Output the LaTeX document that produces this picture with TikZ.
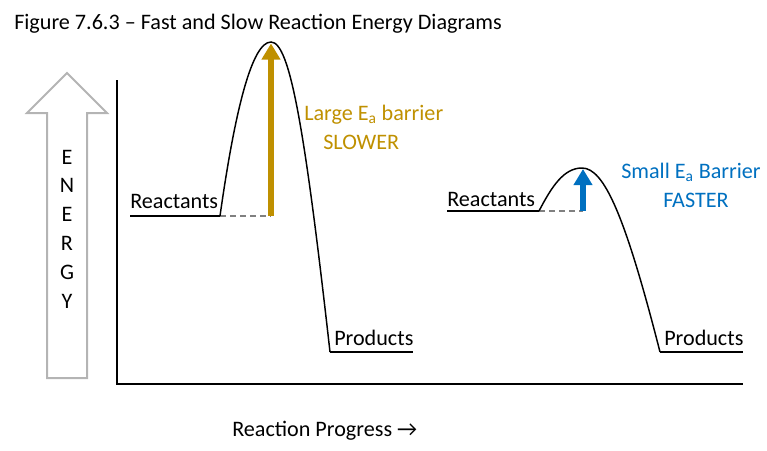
\documentclass[tikz,border=0pt]{standalone}
\usepackage{fontspec}
\setmainfont{Carlito}
\usetikzlibrary{arrows.meta}

\definecolor{slowgold}{HTML}{BF9000}
\definecolor{fastblue}{HTML}{0070C0}
\definecolor{hollowgray}{HTML}{B4B4B4}

\begin{document}
\begin{tikzpicture}[x=0.75pt,y=-0.75pt,font=\fontsize{16.6}{19}\selectfont,
	txt/.style={inner sep=0pt, anchor=base west},
	level/.style={line width=1.5pt},
	hump/.style={line width=1.1pt},
	gap/.style={gray, line width=1.4pt, dash pattern=on 4.5pt off 3pt},
	barrier/.style={line width=3.8pt, -{Triangle[width=13.5pt,length=12pt]}}]
\useasboundingbox (0,0) rectangle (767,450);

%----------------------------
% Title and energy axis
%----------------------------
\node[txt] (title) at (14,29) {Figure 7.6.3 -- Fast and Slow Reaction Energy Diagrams};

% hollow energy arrow
\draw[hollowgray, line width=1.5pt, line join=miter]
(67,73) -- (107,113) -- (87,113) -- (87,378) -- (47,378) -- (47,113) -- (27,113) -- cycle;
\foreach \ch [count=\i] in {E,N,E,R,G,Y}
	\node[inner sep=0pt] (en\i) at (67,{157+28.8*(\i-1)}) {\ch};

% axes
\coordinate (top) at (117,80);
\coordinate (origin) at (117,384);
\coordinate (end) at (743,384);
\draw[level] (top) -- (origin) -- (end);
\node[txt] (progress) at (232,436) {Reaction Progress \char"2192};

%----------------------------
% Left: slow reaction
%----------------------------
\coordinate (rA) at (130,216);
\coordinate (sA) at (220,216);
\coordinate (pkA) at (271,42);
\coordinate (baseA) at (271,216);
\coordinate (fA) at (330,352);
\coordinate (eA) at (413,352);

\draw[level] (rA) -- (sA);
\node[txt] (reactA) at (130,208) {Reactants};
\draw[gap] (sA) -- (baseA);
\draw[hump] (sA) .. controls (235,110) and (252,42) .. (pkA)
	.. controls (290,42) and (305,130) .. (fA);
\draw[level] (fA) -- (eA);
\node[txt] (prodA) at (334,345) {Products};

% activation barrier
\draw[barrier, slowgold] (baseA) -- (271,43.5);
\node[txt, slowgold] (largeA) at (304,120) {Large E\textsubscript{a} barrier};
\node[txt, slowgold] (slowA) at (323,149) {SLOWER};

%----------------------------
% Right: fast reaction
%----------------------------
\coordinate (rB) at (447,211);
\coordinate (sB) at (539,211);
\coordinate (pkB) at (582,168);
\coordinate (baseB) at (583,211);
\coordinate (fB) at (660,352);
\coordinate (eB) at (743,352);

\draw[level] (rB) -- (sB);
\node[txt] (reactB) at (447,206) {Reactants};
\draw[gap] (sB) -- (baseB);
\draw[hump] (sB) .. controls (552,186) and (564,168) .. (pkB)
	.. controls (604,168) and (625,215) .. (fB);
\draw[level] (fB) -- (eB);
\node[txt] (prodB) at (664,345) {Products};

% activation barrier
\draw[barrier, fastblue, line width=4.2pt] (baseB) -- (583,169);
\node[txt, fastblue] (smallB) at (621,178) {Small E\textsubscript{a} Barrier};
\node[txt, fastblue] (fastB) at (663,207) {FASTER};

\end{tikzpicture}
\end{document}
